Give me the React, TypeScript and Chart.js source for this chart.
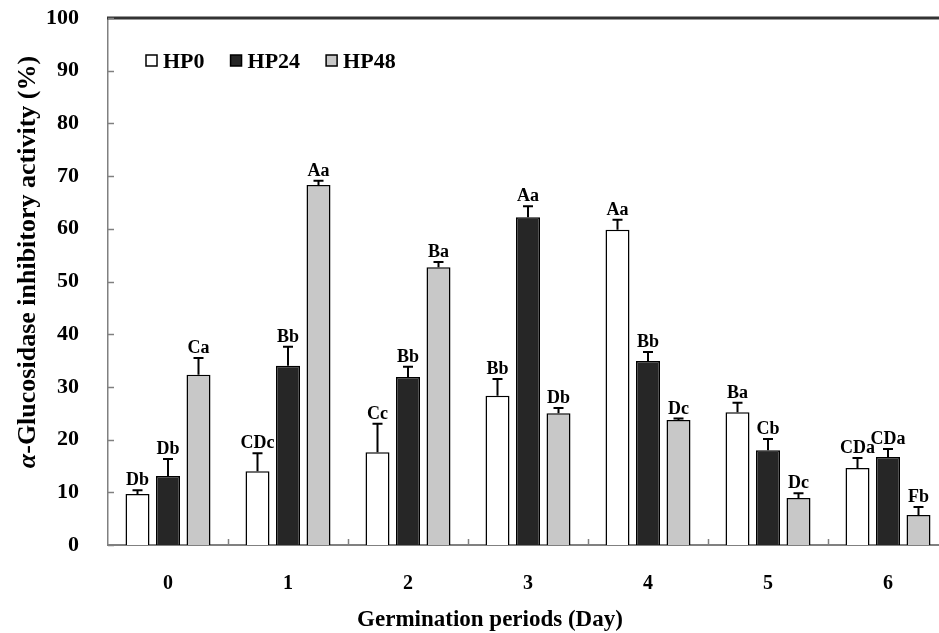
import React, { useEffect, useRef } from "react";
import { Chart, registerables } from "chart.js";

Chart.register(...registerables);

const categories = ["0", "1", "2", "3", "4", "5", "6"];
const seriesNames = ["HP0", "HP24", "HP48"];
const hp0 = [9.7, 14.0, 17.6, 28.3, 59.8, 25.2, 14.6];
const hp24 = [13.1, 34.0, 31.9, 62.2, 34.9, 18.0, 16.7];
const hp48 = [32.3, 68.3, 52.7, 25.0, 23.7, 8.9, 5.7];
const hp0Err = [0.7, 3.4, 5.4, 3.2, 1.9, 1.8, 1.9];
const hp24Err = [3.2, 3.6, 1.9, 2.1, 1.7, 2.1, 1.5];
const hp48Err = [3.2, 0.8, 1.0, 1.0, 0.3, 0.9, 1.5];
const hp0Letters = ["Db", "CDc", "Cc", "Bb", "Aa", "Ba", "CDa"];
const hp24Letters = ["Db", "Bb", "Bb", "Aa", "Bb", "Cb", "CDa"];
const hp48Letters = ["Ca", "Aa", "Ba", "Db", "Dc", "Dc", "Fb"];
const yTicks = [0, 10, 20, 30, 40, 50, 60, 70, 80, 90, 100];

const FAMILY = "'Liberation Serif', 'Times New Roman', serif";
const COLORS = ["#ffffff", "#262626", "#c8c8c8"];

const errs = [hp0Err, hp24Err, hp48Err];
const letters = [hp0Letters, hp24Letters, hp48Letters];

const decorPlugin = {
  id: "decor",
  afterDraw(chart: any) {
    const { ctx, chartArea, scales } = chart;
    const ys = scales.y;
    const xs = scales.x;
    ctx.save();
    // top line
    ctx.strokeStyle = "#333333";
    ctx.lineWidth = 3;
    ctx.beginPath();
    ctx.moveTo(chartArea.left - 1, chartArea.top);
    ctx.lineTo(chart.width, chartArea.top);
    ctx.stroke();
    // y ticks inward
    ctx.strokeStyle = "#808080";
    ctx.lineWidth = 1.5;
    yTicks.forEach((v) => {
      const y = Math.round(ys.getPixelForValue(v)) + 0.5;
      ctx.beginPath();
      ctx.moveTo(chartArea.left, y);
      ctx.lineTo(chartArea.left + 6, y);
      ctx.stroke();
    });
    // x ticks between categories
    for (let i = 1; i < categories.length; i++) {
      const x = Math.round((xs.getPixelForValue(i - 1) + xs.getPixelForValue(i)) / 2) + 0.5;
      ctx.beginPath();
      ctx.moveTo(x, chartArea.bottom);
      ctx.lineTo(x, chartArea.bottom - 6);
      ctx.stroke();
    }
    // legend
    ctx.font = `bold 22px ${FAMILY}`;
    ctx.textBaseline = "middle";
    ctx.textAlign = "left";
    let lx = chartArea.left + 38;
    const ly = chartArea.top + 43;
    chart.data.datasets.forEach((ds: any) => {
      ctx.fillStyle = ds.backgroundColor;
      ctx.fillRect(lx, ly - 6, 11, 11);
      ctx.strokeStyle = "#000";
      ctx.lineWidth = 1.5;
      ctx.strokeRect(lx, ly - 6, 11, 11);
      ctx.fillStyle = "#000";
      ctx.fillText(ds.label, lx + 17, ly + 1);
      lx += 17 + ctx.measureText(ds.label).width + 26;
    });
    // y title with italic alpha
    const part1 = "α";
    const part2 = "-Glucosidase inhibitory activity (%)";
    const f1 = `italic bold 26px ${FAMILY}`;
    const f2 = `bold 26px ${FAMILY}`;
    ctx.font = f1;
    const w1 = ctx.measureText(part1).width;
    ctx.font = f2;
    const w2 = ctx.measureText(part2).width;
    ctx.translate(28, 262);
    ctx.rotate(-Math.PI / 2);
    ctx.textBaseline = "middle";
    ctx.textAlign = "left";
    const start = -(w1 + w2) / 2;
    ctx.font = f1;
    ctx.fillText(part1, start, 0);
    ctx.font = f2;
    ctx.fillText(part2, start + w1, 0);
    ctx.setTransform(1, 0, 0, 1, 0, 0);
    // x title
    ctx.font = `bold 23px ${FAMILY}`;
    ctx.textAlign = "center";
    ctx.textBaseline = "middle";
    ctx.fillText("Germination periods (Day)", 490, 620);
    ctx.restore();
  },
  afterDatasetsDraw(chart: any) {
    const { ctx, scales } = chart;
    const ys = scales.y;
    ctx.save();
    chart.data.datasets.forEach((ds: any, di: number) => {
      const meta = chart.getDatasetMeta(di);
      meta.data.forEach((bar: any, i: number) => {
        const v = ds.data[i];
        const top = ys.getPixelForValue(v + errs[di][i]);
        ctx.strokeStyle = "#000";
        ctx.lineWidth = 2;
        ctx.beginPath();
        ctx.moveTo(bar.x, bar.y);
        ctx.lineTo(bar.x, top);
        ctx.moveTo(bar.x - 5, top);
        ctx.lineTo(bar.x + 5, top);
        ctx.stroke();
        ctx.fillStyle = "#000";
        ctx.font = `bold 18px ${FAMILY}`;
        ctx.textAlign = "center";
        ctx.textBaseline = "alphabetic";
        ctx.fillText(letters[di][i], bar.x, top - 5);
      });
    });
    ctx.restore();
  },
};

export default function App() {
  const ref = useRef<HTMLCanvasElement>(null);
  useEffect(() => {
    if (!ref.current) return;
    const chart = new Chart(ref.current, {
      type: "bar",
      data: {
        labels: categories,
        datasets: [hp0, hp24, hp48].map((d, i) => ({
          label: seriesNames[i],
          data: d,
          backgroundColor: COLORS[i],
          borderColor: "#000000",
          borderWidth: 1.5,
          categoryPercentage: 0.7625,
          barPercentage: 0.787,
        })),
      },
      options: {
        responsive: false,
        animation: false,
        devicePixelRatio: 1,
        layout: { padding: { top: 18, right: 12, left: 0, bottom: 0 } },
        plugins: { legend: { display: false }, tooltip: { enabled: false } },
        scales: {
          x: {
            grid: { display: false },
            border: { display: true, color: "#808080", width: 2 },
            ticks: { color: "#000", font: { family: FAMILY, size: 20, weight: "bold" }, padding: 19 },
            afterFit: (s: any) => {
              s.height = 88;
              s.paddingLeft = 0;
              s.paddingRight = 0;
            },
          },
          y: {
            min: 0,
            max: 100,
            grid: { display: false },
            border: { display: true, color: "#808080", width: 1.5 },
            ticks: {
              stepSize: 10,
              color: "#000",
              font: { family: FAMILY, size: 22, weight: "bold" },
              padding: 21,
            },
            afterFit: (s: any) => {
              s.width = 108;
              s.paddingTop = 0;
              s.paddingBottom = 0;
            },
          },
        },
      },
      plugins: [decorPlugin],
    });
    return () => chart.destroy();
  }, []);
  return (
    <div style={{ position: "fixed", left: 0, top: 0, width: 939, height: 633, overflow: "hidden", background: "#fff" }}>
      <canvas ref={ref} width={960} height={633} style={{ display: "block", width: 960, height: 633 }} />
    </div>
  );
}
